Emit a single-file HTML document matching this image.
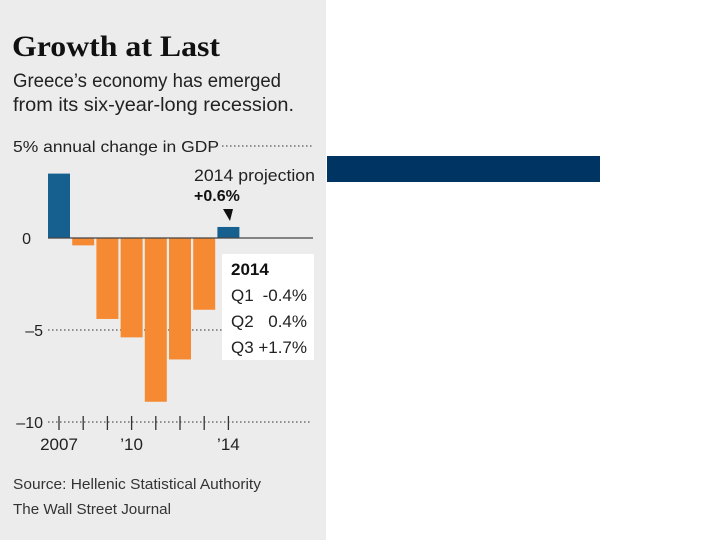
<!DOCTYPE html>
<html><head><meta charset="utf-8"><style>
body{margin:0;background:#fff;}
svg{display:block;font-family:"Liberation Sans",sans-serif;}
</style></head><body>
<svg width="720" height="540">
<rect x="0" y="0" width="326" height="540" fill="#ececec"/>
<rect x="327" y="156" width="273" height="26" fill="#003462"/>
<text x="12" y="56" font-family="Liberation Serif,serif" font-weight="bold" font-size="30" textLength="208" lengthAdjust="spacingAndGlyphs" fill="#111">Growth at Last</text>
<text x="13" y="87" font-size="19" textLength="268" lengthAdjust="spacingAndGlyphs" fill="#222">Greece’s economy has emerged</text>
<text x="13" y="111" font-size="19" textLength="281" lengthAdjust="spacingAndGlyphs" fill="#222">from its six-year-long recession.</text>
<g id="plot"></g>
<text x="13" y="489" font-size="15" textLength="248" lengthAdjust="spacingAndGlyphs" fill="#333">Source: Hellenic Statistical Authority</text>
<text x="13" y="514" font-size="15" textLength="158" lengthAdjust="spacingAndGlyphs" fill="#333">The Wall Street Journal</text>
</svg>
<script>
const years=[2007,2008,2009,2010,2011,2012,2013,2014];
const gdpChange=[3.5,-0.4,-4.4,-5.4,-8.9,-6.6,-3.9,0.6];
const yTicks=[5,0,-5,-10];
const yTickLabels=["5% annual change in GDP","0","\u20135","\u201310"];
const xLabelYears=[2007,2010,2014];
const xLabels=["2007","\u201910","\u201914"];
const NS="http://www.w3.org/2000/svg";
const g=document.getElementById('plot');
function y(v){return 238-v*18.4;}
function x(i){return 48+i*24.2;}
function mk(t,a,txt){const e=document.createElementNS(NS,t);for(const k in a)e.setAttribute(k,a[k]);if(txt!==undefined)e.textContent=txt;g.appendChild(e);return e;}
// gridlines
yTicks.forEach((v,i)=>{
  if(v===0)return;
  const x0=v===5?222:(v===-5?48:48);
  const gl=mk('line',{x1:x0,x2:312,y1:y(v),y2:y(v),stroke:'#555','stroke-width':1.2,'stroke-dasharray':'1.5 2.5'});
  
  
});
yTicks.forEach((v,i)=>{
  const t=mk('text',{x:v===5?13:(v===0?31:(v===-5?43:43)),y:y(v)+6,'font-size':16,fill:'#222','text-anchor':v===5?'start':'end'},yTickLabels[i]);
  if(v===5){t.setAttribute('textLength','206');t.setAttribute('lengthAdjust','spacingAndGlyphs');}
  
  
});
gdpChange.forEach((v,i)=>{
  const top=Math.min(y(v),y(0)),h=Math.abs(y(v)-y(0));
  const r=mk('rect',{x:x(i),y:top,width:22,height:h,fill:v>=0?'#16608f':'#f68a33'});
  
  
});
const zl=mk('line',{x1:48,x2:313,y1:y(0),y2:y(0),stroke:'#444','stroke-width':1.3});


years.forEach((yr,i)=>{
  const t=mk('line',{x1:x(i)+11,x2:x(i)+11,y1:y(-10)-6,y2:y(-10)+8,stroke:'#333','stroke-width':1.3});
  
  
});
xLabelYears.forEach((yr,j)=>{
  const i=years.indexOf(yr);
  const t=mk('text',{x:x(i)+11,y:y(-10)+28,'font-size':17,fill:'#222','text-anchor':'middle'},xLabels[j]);
  
  
});
// annotation
const a1=mk('text',{x:194,y:181,'font-size':17,fill:'#222',textLength:121,lengthAdjust:'spacingAndGlyphs'},'2014 projection');


const a2=mk('text',{x:194,y:201,'font-size':16,'font-weight':'bold',fill:'#111'},'+'+gdpChange[7].toFixed(1)+'%');


const tri=mk('polygon',{points:'223,209 233,209 230,221',fill:'#111'});


// quarterly box
const bx=mk('rect',{x:222,y:254,width:92,height:106,fill:'#fff'});


const qh=mk('text',{x:231,y:275,'font-size':17,'font-weight':'bold',fill:'#111'},'2014');


const quarters=['Q1','Q2','Q3'];
const qVals=['-0.4%','0.4%','+1.7%'];
quarters.forEach((q,i)=>{
  const t1=mk('text',{x:231,y:301+i*26,'font-size':17,fill:'#222'},q);
  
  
  const t2=mk('text',{x:307,y:301+i*26,'font-size':17,fill:'#222','text-anchor':'end'},qVals[i]);
  
  
});
</script>
</body></html>
